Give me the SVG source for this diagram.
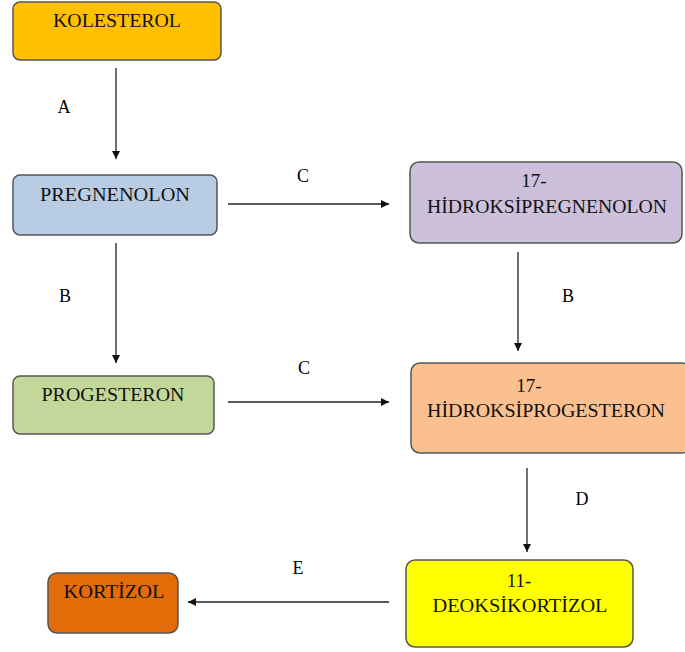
<svg xmlns="http://www.w3.org/2000/svg" width="685" height="652" viewBox="0 0 685 652">
<style>
.box{stroke:#555;stroke-width:1.5}
.t{font-family:"Liberation Serif","Times New Roman","DejaVu Serif",serif;font-size:19px;fill:#111;text-anchor:middle}
.l{font-family:"Liberation Serif","Times New Roman","DejaVu Serif",serif;font-size:18px;fill:#000;text-anchor:middle}
.c{stroke:#222;stroke-width:1.3;fill:none;marker-end:url(#ah)}
</style>
<defs>
<marker id="ah" viewBox="0 0 10 10" refX="10" refY="5" markerWidth="8" markerHeight="8" markerUnits="userSpaceOnUse" orient="auto">
<path d="M0,0 L10,5 L0,10 z" fill="#111"/>
</marker>
</defs>
<rect width="685" height="652" fill="#fff"/>
<g id="connectors">
<line class="c" x1="116" y1="68" x2="116" y2="159"/>
<line class="c" x1="228" y1="204" x2="389" y2="204"/>
<line class="c" x1="518" y1="252" x2="518" y2="351"/>
<line class="c" x1="116" y1="243" x2="116" y2="363"/>
<line class="c" x1="228" y1="402" x2="389" y2="402"/>
<line class="c" x1="527" y1="468" x2="527" y2="552"/>
<line class="c" x1="389" y1="602" x2="188" y2="602"/>
<text class="l" x="64" y="113">A</text>
<text class="l" x="303" y="182">C</text>
<text class="l" x="568" y="302">B</text>
<text class="l" x="65" y="302">B</text>
<text class="l" x="304" y="374">C</text>
<text class="l" x="582" y="505">D</text>
<text class="l" x="298" y="574">E</text>
</g>
<g id="kolesterol">
<rect class="box" x="13" y="2" width="208" height="58" rx="7" fill="#FFC000"/>
<text class="t" x="117" y="27" textLength="128" lengthAdjust="spacingAndGlyphs">KOLESTEROL</text>
</g>
<g id="pregnenolon">
<rect class="box" x="13" y="175" width="204" height="60" rx="7" fill="#B8CCE4"/>
<text class="t" x="115" y="201" textLength="150" lengthAdjust="spacingAndGlyphs">PREGNENOLON</text>
</g>
<g id="hidroksipregnenolon">
<rect class="box" x="410" y="162" width="272" height="81" rx="9" fill="#CCC0DA"/>
<text class="t" x="534" y="187">17-</text>
<text class="t" x="547" y="213" textLength="240" lengthAdjust="spacingAndGlyphs">HİDROKSİPREGNENOLON</text>
</g>
<g id="progesteron">
<rect class="box" x="13" y="376" width="201" height="58" rx="7" fill="#C4D79B"/>
<text class="t" x="113" y="401" textLength="143" lengthAdjust="spacingAndGlyphs">PROGESTERON</text>
</g>
<g id="hidroksiprogesteron">
<rect class="box" x="411" y="363" width="280" height="90" rx="9" fill="#FAC090"/>
<text class="t" x="529" y="392">17-</text>
<text class="t" x="546" y="417" textLength="238" lengthAdjust="spacingAndGlyphs">HİDROKSİPROGESTERON</text>
</g>
<g id="deoksikortizol">
<rect class="box" x="406" y="560" width="227" height="87" rx="9" fill="#FFFF00"/>
<text class="t" x="519" y="587">11-</text>
<text class="t" x="520" y="612" textLength="175" lengthAdjust="spacingAndGlyphs">DEOKSİKORTİZOL</text>
</g>
<g id="kortizol">
<rect class="box" x="48" y="573" width="130" height="60" rx="9" fill="#E36C09"/>
<text class="t" x="114" y="598" textLength="101" lengthAdjust="spacingAndGlyphs">KORTİZOL</text>
</g>
</svg>
